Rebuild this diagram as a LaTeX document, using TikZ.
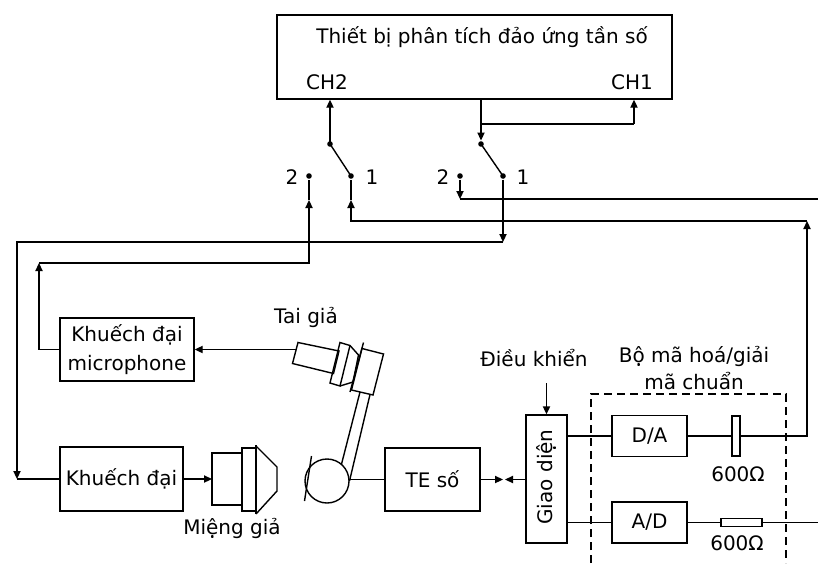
\documentclass[tikz,border=0pt]{standalone}
\usepackage{fontspec}
\setmainfont{DejaVu Sans}
\usetikzlibrary{arrows.meta}
\begin{document}
\begin{tikzpicture}[x=0.5pt,y=-0.5pt,
  line width=0.7pt,
  >={Triangle[length=4pt,width=3.6pt]},
  every node/.style={font=\fontsize{10}{14}\selectfont, inner sep=0pt},
  blk/.style={draw, line width=0.7pt},
  swdot/.style={circle, fill, inner sep=0pt, minimum size=2.8pt},
  codecbox/.style={dash pattern=on 4pt off 2.5pt},
  thickedge/.style={line width=1.2pt},
]
\useasboundingbox (0,0) rectangle (818,563);

% analyser
\node[blk, minimum width=197.5pt, minimum height=42pt] (anal) at (474.5,57) {};
\node (title) at (482,37) {Thiết bị phân tích đảo ứng tần số};
\node (ch2) at (327,82) {CH2};
\node (ch1) at (632,82) {CH1};

% switches
\node[swdot] (p2) at (330,144) {};
\node[swdot] (l1) at (351,176) {};
\node[swdot] (l2) at (309,176) {};
\node[swdot] (p1) at (481,144) {};
\node[swdot] (r1) at (503,176) {};
\node[swdot] (r2) at (460,176) {};
\node (tl2) at (292,177) {2};
\node (tl1) at (372,177) {1};
\node (tr2) at (443,177) {2};
\node (tr1) at (523,177) {1};
\draw (p2.center) -- (l1.center);
\draw (p1.center) -- (r1.center);
\draw[->] (p2.center) -- (p2 |- anal.south);

\coordinate (br) at (481,124);
\coordinate (brr) at (634,124);
\draw (p1 |- anal.south) -- (br) -- (brr);
\draw[->] (brr) -- (brr |- anal.south);
\draw[->] (p1 |- anal.south) -- (p1);

% boxes
\node[blk, minimum width=67pt, minimum height=31.5pt, align=center, font=\fontsize{10}{14.5}\selectfont] (micamp) at (127,349.5) {Khuếch đại\\microphone};
\node[blk, minimum width=61.5pt, minimum height=32pt] (amp) at (121.5,479) {Khuếch đại};
\node[blk, minimum width=47.5pt, minimum height=31.5pt] (te) at (432.5,479.5) {TE số};
\node[blk, minimum width=20.5pt, minimum height=64pt] (gd) at (546.5,479) {};
\node[rotate=90] (gdt) at (546.5,477) {Giao diện};
\node[blk, minimum width=37.5pt, minimum height=20.5pt] (da) at (649.5,436) {D/A};
\node[blk, minimum width=37.5pt, minimum height=20.5pt] (ad) at (649.5,522.5) {A/D};
\node[blk, minimum width=4pt, minimum height=20pt] (cap) at (736,436) {};
\node[blk, minimum width=20.5pt, minimum height=4pt] (res) at (741.5,522.5) {};

% labels
\node (tai) at (306,317) {Tai giả};
\node (mieng) at (232,528) {Miệng giả};
\node (dk) at (534,358) {Điều khiển};
\node[align=center, font=\fontsize{10}{13.5}\selectfont] (codec) at (694,368) {Bộ mã hoá/giải\\mã chuẩn};
\node (r600a) at (738,474) {600Ω};
\node (r600b) at (737,543) {600Ω};

% codec dashed frame
\draw[codecbox] (591,563) -- (591,394) -- (786,394) -- (786,563);

% right 2 contact
\coordinate (r2b) at (460,199);
\coordinate (eR1) at (818,199);
\draw[->] (r2) -- (r2b);
\draw (r2b) -- (eR1);

% right 1 contact to amplifier
\coordinate (r1b) at (503,242);
\coordinate (lt) at (17,242);
\coordinate (lb) at (17,479);
\draw[->] (r1) -- (r1b);
\draw[->] (r1b) -- (lt) -- (lb);
\draw (lb) -- (amp.west);

% D/A output to left 1 contact
\coordinate (rb) at (807,436);
\coordinate (rt) at (807,221);
\coordinate (l1b) at (351,221);
\coordinate (l1a) at (351,200);
\draw[->] (cap.east) -- (rb) -- (rt);
\draw[->] (rt) -- (l1b) -- (l1a);
\draw (l1a) -- (l1);

% mic amp to left 2 contact
\coordinate (mb) at (39,349.5);
\coordinate (mt) at (39,263);
\coordinate (l2b) at (309,263);
\coordinate (l2a) at (309,200);
\draw[->] (micamp.west) -- (mb) -- (mt);
\draw[->] (mt) -- (l2b) -- (l2a);
\draw (l2a) -- (l2);

% codec wiring
\coordinate (rout) at (818,522.5);
\draw (gd.east |- da.west) -- (da.west);
\draw (da.east) -- (cap.west);
\draw (gd.east |- ad.west) -- (ad.west);
\draw (ad.east) -- (res.west);
\draw (res.east) -- (rout);

% control and TE links
\coordinate (ctl) at (546.5,383);
\draw[->] (ctl) -- (gd.north);
\coordinate (mA) at (503,479.5);
\coordinate (mB) at (505,479.5);
\draw[->] (te.east) -- (mA);
\draw[->] (gd.west |- mB) -- (mB);

% artificial mouth
\coordinate (mouthin) at (212,479);
\draw[->] (amp.east) -- (mouthin);
\draw (212,453) rectangle (242,505);
\draw (242,448) rectangle (256,511);
\draw[thickedge] (256,445) -- (256,514);
\draw (256,446) -- (277,467) -- (277,491) -- (256,514);

% artificial ear
\coordinate (micin) at (296,349.5);
\draw[->] (micin) -- (micamp.east);
\draw (298,342.5) -- (339,351) -- (333.5,373.5) -- (292.5,363.5) -- cycle;
\draw (340,342.5) -- (350,345.5) -- (340,386) -- (330,383) -- cycle;
\draw (350,345.5) -- (358.5,355) -- (353,382) -- (340,386);
\draw (362,348.5) -- (383.5,354) -- (373,395) -- (351.5,390) -- cycle;
\draw (363.5,342.5) -- (350,392);
\draw (360,392) -- (340,470);
\draw (370,394.5) -- (349.5,481);
\draw[fill=white] (327,481) circle[radius=11pt];
\draw (311.5,456) -- (304.5,501);
\coordinate (earout) at (349,479.5);
\draw (earout) -- (te.west);
\end{tikzpicture}
\end{document}
